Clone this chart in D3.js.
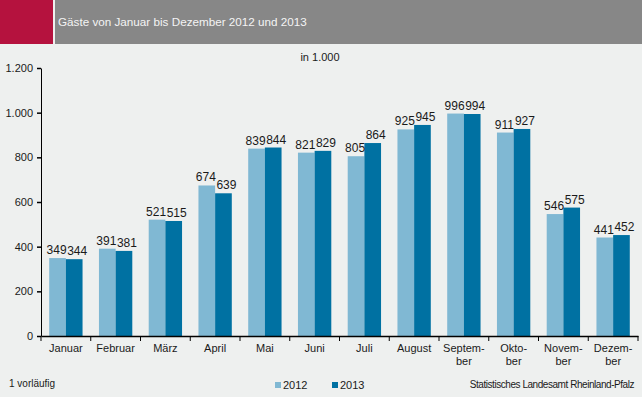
<!DOCTYPE html>
<html>
<head>
<meta charset="utf-8">
<script src="https://cdn.jsdelivr.net/npm/d3@7"></script>
<style>
  body { margin: 0; background: #eef0ef; }
  svg text { font-family: "Liberation Sans", Arial, sans-serif; fill: #1a1a1a; }
</style>
</head>
<body>
<script>
// Chart data
var months = ["Januar", "Februar", "März", "April", "Mai", "Juni", "Juli", "August", "Septem-|ber", "Okto-|ber", "Novem-|ber", "Dezem-|ber"];
var series = ["2012", "2013"];
var values2012 = [349, 391, 521, 674, 839, 821, 805, 925, 996, 911, 546, 441];
var values2013 = [344, 381, 515, 639, 844, 829, 864, 945, 994, 927, 575, 452];
var yTicks = [0, 200, 400, 600, 800, 1000, 1200];
var yTickLabels = ["0", "200", "400", "600", "800", "1.000", "1.200"];
var colors = ["#80b8d3", "#0071a2"];

var svgWidth = 642;
var svgHeight = 397;

var chartMargin = { top: 68, right: 4, bottom: 61, left: 41 };
var width = svgWidth - chartMargin.left - chartMargin.right;
var height = svgHeight - chartMargin.top - chartMargin.bottom;

var svg = d3.select("body").append("svg")
  .attr("width", svgWidth)
  .attr("height", svgHeight);

// header bar
svg.append("rect").attr("x", 0).attr("y", 0).attr("width", 53).attr("height", 44).attr("fill", "#b5123e");
svg.append("rect").attr("x", 55).attr("y", 0).attr("width", svgWidth - 55).attr("height", 44).attr("fill", "#878787");
svg.append("text").attr("x", 58).attr("y", 26)
  .style("font-size", "11.7px").style("fill", "#f4f4f4")
  .text("Gäste von Januar bis Dezember 2012 und 2013");

svg.append("text").attr("x", 320).attr("y", 61).attr("text-anchor", "middle")
  .style("font-size", "11px").text("in 1.000");

var chartGroup = svg.append("g")
  .attr("transform", `translate(${chartMargin.left}, ${chartMargin.top})`);

var xBandScale = d3.scaleBand()
  .domain(months)
  .range([0, width])
  .paddingInner(0.33)
  .paddingOuter(0.165);

var xOuter = d3.scaleBand().domain(months).range([0, width]);

var xSeries = d3.scaleBand().domain(series).range([0, xBandScale.bandwidth()]);

var yLinearScale = d3.scaleLinear().domain([0, 1200]).range([height, 0]);

// bars
var rows = months.map(function(m, i) {
  return { month: m, vals: [values2012[i], values2013[i]] };
});

var groups = chartGroup.selectAll(".grp")
  .data(rows)
  .enter()
  .append("g")
  .attr("transform", d => `translate(${xBandScale(d.month)},0)`);

groups.selectAll("rect")
  .data(d => d.vals.map((v, j) => ({ s: series[j], v: v, c: colors[j] })))
  .enter()
  .append("rect")
  .attr("x", d => xSeries(d.s))
  .attr("width", xSeries.bandwidth())
  .attr("y", d => yLinearScale(d.v))
  .attr("height", d => height - yLinearScale(d.v))
  .attr("fill", d => d.c);

groups.selectAll(".lbl")
  .data(d => d.vals.map((v, j) => ({ s: series[j], v: v })))
  .enter()
  .append("text")
  .attr("x", d => xSeries(d.s) + xSeries.bandwidth() / 2 + (d.s === "2013" ? 3 : -1))
  .attr("y", d => yLinearScale(d.v) - 4)
  .attr("text-anchor", "middle")
  .style("font-size", "12px")
  .text(d => d.v);

// y axis
var leftAxis = d3.axisLeft(yLinearScale)
  .tickValues(yTicks)
  .tickFormat((d, i) => yTickLabels[i])
  .tickSizeInner(4)
  .tickSizeOuter(0);

var yAxisG = chartGroup.append("g").call(leftAxis);
yAxisG.select(".domain").attr("stroke", "#000");
yAxisG.selectAll(".tick line").attr("stroke", "#000").attr("stroke-width", 1.5);
yAxisG.selectAll("text").style("font-size", "11px").attr("x", -8);

// x axis
var bottomAxis = d3.axisBottom(xOuter).tickSize(0).tickFormat("");
var xAxisG = chartGroup.append("g")
  .attr("transform", `translate(0, ${height})`)
  .call(bottomAxis);
xAxisG.select(".domain").attr("stroke", "#000").attr("stroke-width", 1.5);

// category separators
xAxisG.selectAll(".sep")
  .data(months)
  .enter()
  .append("line")
  .attr("x1", d => xOuter(d))
  .attr("x2", d => xOuter(d))
  .attr("y1", 0).attr("y2", 5)
  .attr("stroke", "#000");
xAxisG.append("line")
  .attr("x1", width).attr("x2", width).attr("y1", 0).attr("y2", 5).attr("stroke", "#000");

// category labels
xAxisG.selectAll(".cat")
  .data(months)
  .enter()
  .append("text")
  .attr("text-anchor", "middle")
  .attr("x", d => xOuter(d) + xOuter.bandwidth() / 2)
  .attr("y", 16)
  .style("font-size", "11px")
  .each(function(d) {
    var parts = d.split("|");
    var t = d3.select(this);
    parts.forEach(function(p, i) {
      t.append("tspan")
        .attr("x", xOuter(d) + xOuter.bandwidth() / 2)
        .attr("dy", i === 0 ? 0 : 13)
        .text(p);
    });
  });

// footer
svg.append("text").attr("x", 9).attr("y", 387).style("font-size", "10px").text("1 vorläufig");

var legend = svg.append("g").attr("transform", "translate(275, 382)");
series.forEach(function(s, i) {
  legend.append("rect").attr("x", i * 57).attr("y", 0).attr("width", 6).attr("height", 6).attr("fill", colors[i]);
  legend.append("text").attr("x", i * 57 + 8).attr("y", 7).style("font-size", "11px").text(s);
});

svg.append("text").attr("x", 634).attr("y", 388).attr("text-anchor", "end")
  .style("font-size", "10px").style("letter-spacing", "-0.45px")
  .text("Statistisches Landesamt Rheinland-Pfalz");
</script>
</body>
</html>
